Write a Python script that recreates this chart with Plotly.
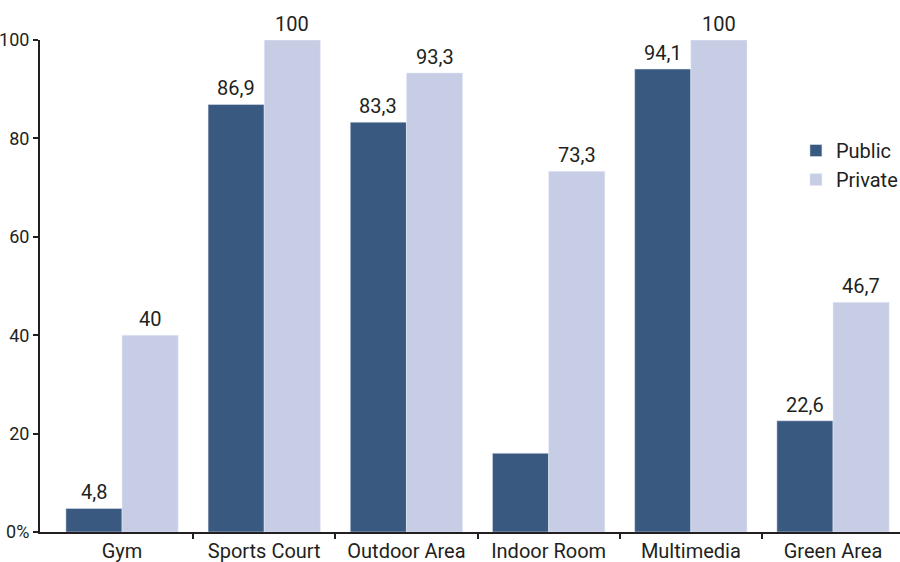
import plotly.graph_objects as go

categories = ["Gym", "Sports Court", "Outdoor Area", "Indoor Room", "Multimedia", "Green Area"]
public_vals = [4.8, 86.9, 83.3, 16.0, 94.1, 22.6]
private_vals = [40, 100, 93.3, 73.3, 100, 46.7]
public_labels = ["4,8", "86,9", "83,3", "", "94,1", "22,6"]
private_labels = ["40", "100", "93,3", "73,3", "100", "46,7"]
y_ticks = [0, 20, 40, 60, 80, 100]
y_ticktext = ["0%", "20", "40", "60", "80", "100"]

FONT = "Roboto"
TXT = "#231f20"
x_idx = list(range(len(categories)))
XR = [-0.577, 5.471]
BARGAP = 0.21
HALF = (1 - BARGAP) / 4  # center offset of each bar within a group

fig = go.Figure()
fig.add_trace(go.Bar(x=x_idx, y=public_vals, name="Public", marker_color="#3a5980"))
fig.add_trace(go.Bar(x=x_idx, y=private_vals, name="Private", marker_color="#c8cde6"))
# invisible trace to activate boundary tick axis
fig.add_trace(go.Scatter(x=[0], y=[0], xaxis="x2", mode="markers",
                         marker=dict(opacity=0), showlegend=False, hoverinfo="skip"))

annotations = []
for i in x_idx:
    for val, lab, off in ((public_vals[i], public_labels[i], -HALF),
                          (private_vals[i], private_labels[i], HALF)):
        if lab:
            annotations.append(dict(x=i + off, y=val, xref="x", yref="y", text=lab,
                                    showarrow=False, yanchor="bottom", yshift=2,
                                    font=dict(size=20, color=TXT, family=FONT)))

fig.update_layout(
    width=900, height=562,
    margin=dict(l=40, r=0, t=40, b=30, autoexpand=False),
    paper_bgcolor="white", plot_bgcolor="white",
    barmode="group", bargap=BARGAP, bargroupgap=0,
    font=dict(family=FONT, color=TXT, size=18),
    annotations=annotations,
    legend=dict(x=0.879, y=0.815, xanchor="left", yanchor="top",
                font=dict(size=20, color=TXT, family=FONT),
                itemwidth=30, tracegroupgap=0, bgcolor="rgba(0,0,0,0)"),
    xaxis=dict(range=XR, tickvals=x_idx, ticktext=categories,
               ticks="", showgrid=False, zeroline=False,
               showline=True, linecolor=TXT, linewidth=2,
               tickfont=dict(size=20, color=TXT, family=FONT)),
    xaxis2=dict(range=XR, overlaying="x", side="bottom",
                tickvals=[0.5, 1.5, 2.5, 3.5, 4.5], ticktext=[""] * 5,
                ticks="outside", ticklen=6, tickwidth=2, tickcolor=TXT,
                showgrid=False, zeroline=False, showline=False, showticklabels=False),
    yaxis=dict(range=[0, 100], tickvals=y_ticks, ticktext=y_ticktext,
               ticks="outside", ticklen=5, tickwidth=2, tickcolor=TXT,
               showgrid=False, zeroline=False, showline=True, linecolor=TXT, linewidth=2,
               tickfont=dict(size=18, color=TXT, family=FONT)),
)

fig.write_html("out.html")
